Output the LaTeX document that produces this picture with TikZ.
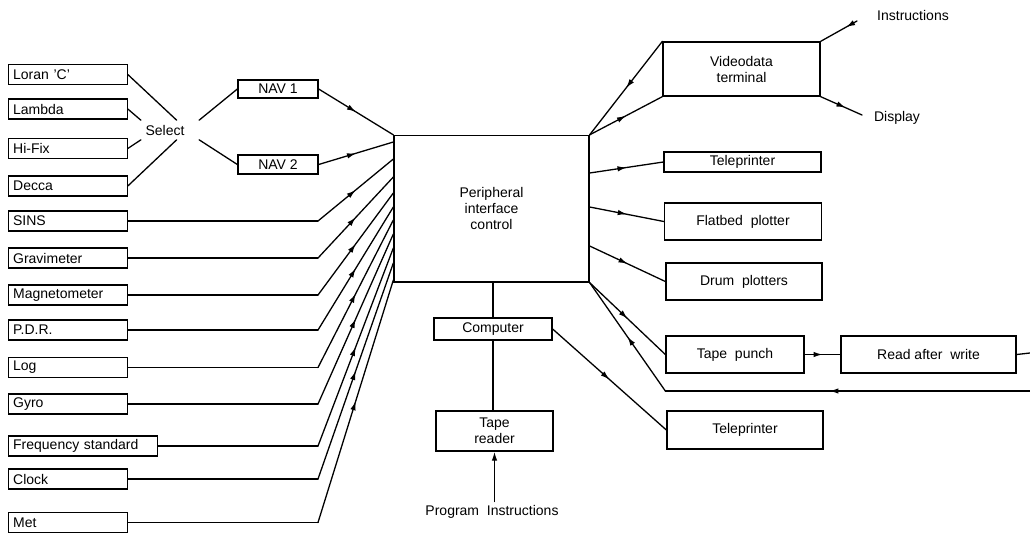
\documentclass[tikz,border=0pt]{standalone}
\usepackage{fontspec}
\setmainfont{Liberation Sans}
\usetikzlibrary{arrows.meta,decorations.markings}

\tikzset{
  blk/.style={draw, inner sep=2pt, align=center},
  inbox/.style={draw, anchor=west, minimum height=20pt, text width=109pt,
    inner xsep=5pt, inner ysep=0pt, align=left},
  midarrow/.style={postaction={decorate},
    decoration={markings, mark=at position #1 with {\arrow{>}}}},
  midarrow/.default=0.5
}

\begin{document}
\begin{tikzpicture}[x=1pt,y=-1pt,>={Latex[length=9pt,width=5.5pt]},line width=1.3pt,
    line cap=round,font=\fontsize{14}{16}\selectfont]
  \useasboundingbox (0,0) rectangle (1030,536);

  % central unit
  \node[blk, minimum width=195pt, minimum height=146.5pt] (pic) at (491.5,208.75)
    {Peripheral\\interface\\control};

  % position fixing inputs
  \node[inbox] (loran) at (7.5,74.5) {Loran 'C'};
  \node[inbox] (lambda) at (7.5,109) {Lambda};
  \node[inbox] (hifix) at (7.5,148.5) {Hi-Fix};
  \node[inbox] (decca) at (7.5,186) {Decca};
  \node[inner xsep=4pt, inner ysep=4pt] (select) at (165,130) {Select};
  \node[blk, minimum width=80pt, minimum height=18pt] (nav1) at (278,89) {NAV 1};
  \node[blk, minimum width=80pt, minimum height=19pt] (nav2) at (278,164.5) {NAV 2};

  \draw (loran.east) -- (select.40);
  \draw (lambda.east) -- (select.north west);
  \draw (hifix.east) -- (select.south west);
  \draw (decca.east) -- (select.-40);
  \draw ([xshift=10pt]select.north east) -- (nav1.west);
  \draw ([xshift=10pt]select.south east) -- (nav2.west);
  \draw[midarrow] (nav1.east) -- (pic.north west);
  \draw[midarrow] (nav2.east) -- (pic.west |- 0,142);

  % sensors
  \node[inbox] (sins) at (7.5,221) {SINS};
  \node[inbox] (grav) at (7.5,258) {Gravimeter};
  \node[inbox] (magn) at (7.5,295) {Magnetometer};
  \node[inbox] (pdr) at (7.5,330) {P.D.R.};
  \node[inbox] (log) at (7.5,367.5) {Log};
  \node[inbox] (gyro) at (7.5,404) {Gyro};
  \node[inbox, text width=139pt] (freq) at (7.5,446) {Frequency standard};
  \node[inbox] (clock) at (7.5,479) {Clock};
  \node[inbox] (met) at (7.5,522.5) {Met};

  \coordinate (bend) at (318,0);
  \foreach \n/\e in {sins/159,grav/177,magn/193,pdr/207,log/220,gyro/234,freq/248,clock/263,met/280}
    \draw (\n.east) -- (\n.east -| bend) edge[midarrow] (pic.west |- 0,\e);

  % outputs
  \node[blk, minimum width=157pt, minimum height=54pt] (video) at (741.5,69) {Videodata\\terminal};
  \node[blk, minimum width=157pt, minimum height=20pt] (tele1) at (742.5,162) {Teleprinter};
  \node[blk, minimum width=157pt, minimum height=37pt] (flat) at (743,221.5) {Flatbed\ \ plotter};
  \node[blk, minimum width=156pt, minimum height=37pt] (drum) at (744,281.5) {Drum\ \ plotters};
  \node[blk, minimum width=138pt, minimum height=37pt] (punch) at (735,354.5) {Tape\ \ punch};
  \node[blk, minimum width=175pt, minimum height=37pt] (raw) at (928.5,354.5) {Read after\ \ write};
  \node[blk, minimum width=156pt, minimum height=38pt] (tele2) at (745,430) {Teleprinter};
  \node[blk, minimum width=118pt, minimum height=22pt] (comp) at (493,329) {Computer};
  \node[blk, minimum width=117pt, minimum height=40pt] (reader) at (494.5,431) {Tape\\reader};
  \node (prog) at (492,512) {Program\ \ Instructions};
  \node (instr) at (913,15) {Instructions};
  \node (disp) at (897,118) {Display};
  \coordinate (instr-end) at (857,21);
  \coordinate (disp-end) at (862,115);
  \coordinate (raw-out) at (1030,353);
  \coordinate (raw-back) at (1030,391);

  \draw[midarrow] (video.north west) -- (pic.north east);
  \draw[midarrow] (pic.north east) -- (video.south west);
  \draw[midarrow=0.3] (instr-end) -- (video.north east);
  \draw[midarrow=0.6] (video.south east) -- (disp-end);
  \draw[midarrow] (pic.east |- 0,173) -- (tele1.west);
  \draw[midarrow] (pic.east |- 0,207) -- (flat.west);
  \draw[midarrow] (pic.east |- 0,246) -- (drum.west);
  \draw[midarrow] (pic.south east) -- (punch.west);
  \draw[midarrow] (punch.east) -- (raw.west);
  \draw (raw.east) -- (raw-out);
  \draw[midarrow=0.55] (raw-back) -- (raw-back -| punch.west);
  \draw[midarrow] (raw-back -| punch.west) -- (pic.south east);
  \draw[midarrow] (comp.east) -- (tele2.west);
  \draw (comp.north |- pic.south) -- (comp.north);
  \draw (comp.south) -- (comp.south |- reader.north);
  \draw[->] (prog.north -| reader.south) -- (reader.south);
\end{tikzpicture}
\end{document}
